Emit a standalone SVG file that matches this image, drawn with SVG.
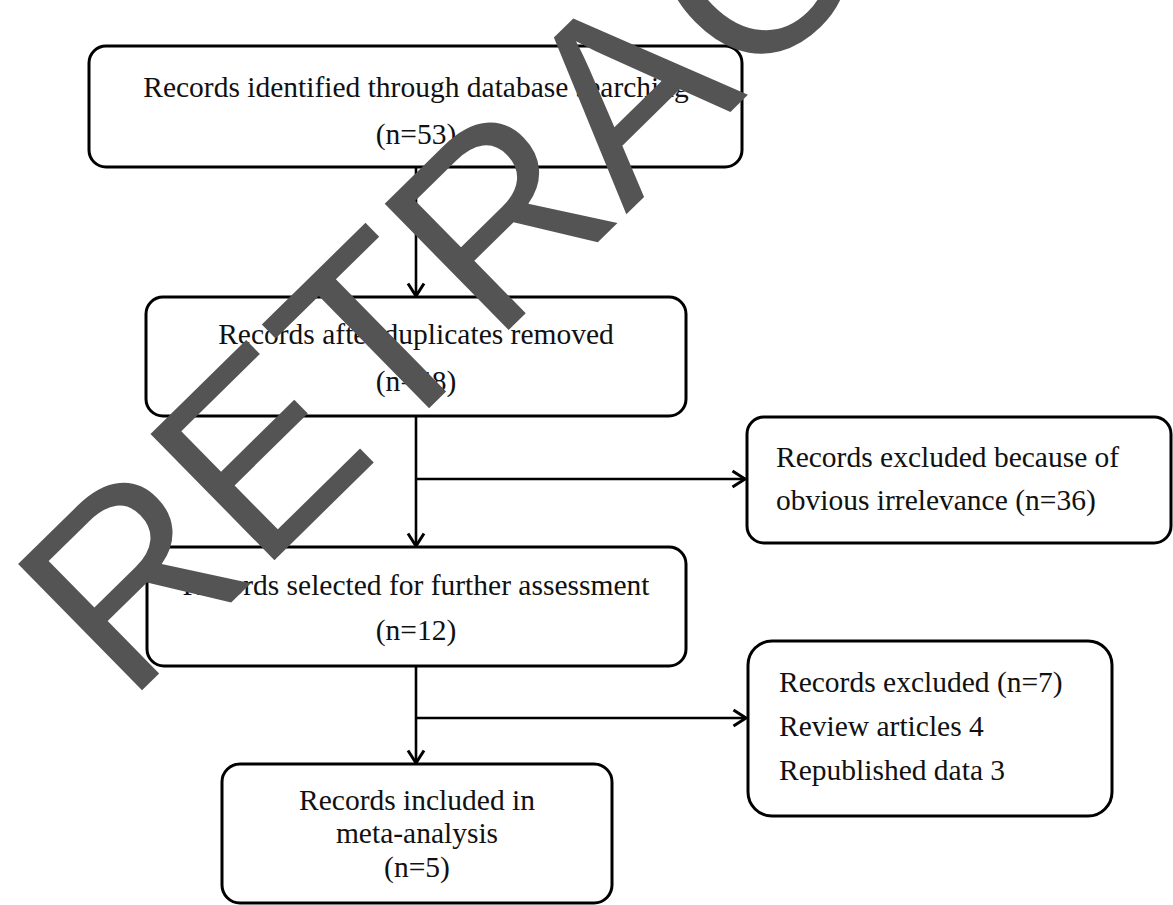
<svg xmlns="http://www.w3.org/2000/svg" width="1173" height="905" viewBox="0 0 1173 905">
  <style>
    .box { fill: #ffffff; stroke: #000000; stroke-width: 3; }
    .t { font-family: "Liberation Serif", "Times New Roman", serif; font-size: 29.5px; fill: #111111; }
    .c { text-anchor: middle; }
    .conn { stroke: #000000; stroke-width: 2.6; fill: none; }
    .wm { font-family: "Liberation Sans", Arial, sans-serif; font-size: 257px; fill: #545454; }
  </style>
  <defs>
    <marker id="arr" markerUnits="userSpaceOnUse" markerWidth="16" markerHeight="20" viewBox="0 0 16 20" refX="14" refY="10" orient="auto">
      <path d="M1.5,2 L14,10 L1.5,18" fill="none" stroke="#000" stroke-width="3" stroke-linejoin="miter"/>
    </marker>
  </defs>
  <rect width="1173" height="905" fill="#ffffff"/>

  <g id="connectors">
    <line class="conn" x1="416" y1="167" x2="416" y2="296" marker-end="url(#arr)"/>
    <line class="conn" x1="416" y1="416" x2="416" y2="546" marker-end="url(#arr)"/>
    <line class="conn" x1="416" y1="479" x2="745" y2="479" marker-end="url(#arr)"/>
    <line class="conn" x1="416" y1="666" x2="416" y2="763" marker-end="url(#arr)"/>
    <line class="conn" x1="416" y1="718" x2="746" y2="718" marker-end="url(#arr)"/>
  </g>

  <g id="node-identified">
    <rect class="box" x="89" y="46" width="653" height="121" rx="17"/>
    <text class="t c" x="416" y="97">Records identified through database searching</text>
    <text class="t c" x="416" y="144">(n=53)</text>
  </g>

  <g id="node-duplicates">
    <rect class="box" x="146" y="297" width="540" height="119" rx="17"/>
    <text class="t c" x="416" y="344">Records after duplicates removed</text>
    <text class="t c" x="416" y="391">(n=48)</text>
  </g>

  <g id="node-excluded-irrelevance">
    <rect class="box" x="747" y="417" width="424" height="126" rx="17"/>
    <text class="t" x="776" y="467">Records excluded because of</text>
    <text class="t" x="776" y="510">obvious irrelevance (n=36)</text>
  </g>

  <g id="node-selected">
    <rect class="box" x="147" y="547" width="539" height="119" rx="17"/>
    <text class="t c" x="416" y="595">Records selected for further assessment</text>
    <text class="t c" x="416" y="640">(n=12)</text>
  </g>

  <g id="node-excluded">
    <rect class="box" x="748" y="641" width="364" height="175" rx="24"/>
    <text class="t" x="779" y="692">Records excluded (n=7)</text>
    <text class="t" x="779" y="736">Review articles 4</text>
    <text class="t" x="779" y="780">Republished data 3</text>
  </g>

  <g id="node-included">
    <rect class="box" x="222" y="764" width="390" height="139" rx="18"/>
    <text class="t c" x="417" y="810">Records included in</text>
    <text class="t c" x="417" y="843">meta-analysis</text>
    <text class="t c" x="417" y="877">(n=5)</text>
  </g>

  <g id="watermark">
    <text class="wm" x="0" y="0" transform="translate(127,705) rotate(-44.5)">RETRACTED</text>
  </g>
</svg>
